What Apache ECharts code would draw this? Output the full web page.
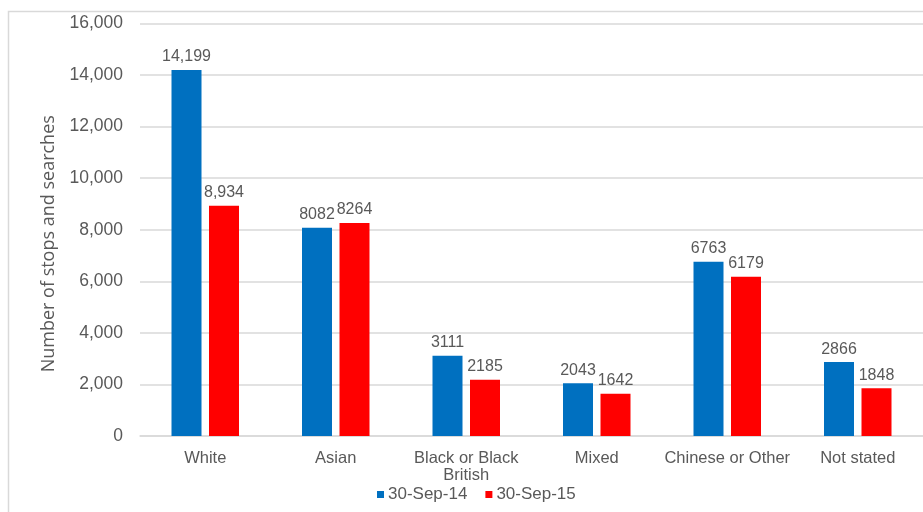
<!DOCTYPE html>
<html>
<head>
<meta charset="utf-8">
<script src="https://cdn.jsdelivr.net/npm/echarts@6/dist/echarts.min.js"></script>
<style>
  html, body { margin: 0; padding: 0; background: #fff; }
  #chart { width: 923px; height: 512px; }
</style>
</head>
<body>
<div id="chart"></div>
<script>
// Stops and searches by ethnicity, two reporting dates
const categories = ['White', 'Asian', 'Black or Black\nBritish', 'Mixed', 'Chinese or Other', 'Not stated'];
const seriesNames = ['30-Sep-14', '30-Sep-15'];
const sep14 = [14199, 8082, 3111, 2043, 6763, 2866];
const sep15 = [8934, 8264, 2185, 1642, 6179, 1848];
// Categories whose value labels are shown with a thousands separator
const groupedLabelCats = ['White'];
const yTicks = { min: 0, max: 16000, interval: 2000 };

const colors = ['#0070C0', '#FF0000'];
const textGrey = '#595959';
const font = '"Liberation Sans", Arial, sans-serif';

function withCommas(v) {
  return v.toString().replace(/\B(?=(\d{3})+(?!\d))/g, ',');
}

function valueLabel(p) {
  return groupedLabelCats.includes(categories[p.dataIndex]) ? withCommas(p.value) : String(p.value);
}

function makeSeries(name, data, color) {
  return {
    name: name,
    type: 'bar',
    data: data,
    barWidth: 30,
    barGap: '25%',
    itemStyle: { color: color },
    label: {
      show: true,
      position: 'top',
      distance: 5,
      color: textGrey,
      fontSize: 16,
      fontFamily: font,
      formatter: valueLabel
    }
  };
}

const chart = echarts.init(document.getElementById('chart'), null, { renderer: 'canvas' });
chart.setOption({
  animation: false,
  color: colors,
  graphic: [{
    type: 'rect',
    shape: { x: 8.5, y: 11.5, width: 1000, height: 600 },
    style: { fill: 'none', stroke: '#d9d9d9', lineWidth: 1.5 },
    silent: true
  }],
  grid: { left: 140, top: 23.5, width: 786, height: 412.5, containLabel: false },
  legend: {
    data: seriesNames,
    bottom: 4,
    left: 372,
    itemWidth: 7,
    itemHeight: 7,
    itemGap: 18,
    icon: 'rect',
    textStyle: { color: textGrey, fontSize: 17, fontFamily: font, padding: [0, 0, 0, -1] }
  },
  xAxis: {
    type: 'category',
    data: categories,
    axisLine: { show: true, lineStyle: { color: '#d9d9d9', width: 1.5 } },
    axisTick: { show: false },
    axisLabel: { color: textGrey, fontSize: 16.5, fontFamily: font, margin: 14, lineHeight: 17, interval: 0 }
  },
  yAxis: {
    type: 'value',
    min: yTicks.min,
    max: yTicks.max,
    interval: yTicks.interval,
    name: 'Number of stops and searches',
    nameLocation: 'middle',
    nameGap: 82,
    nameRotate: 90,
    nameTextStyle: {
      color: textGrey,
      fontSize: 18,
      fontFamily: '"Open Sans", sans-serif',
      padding: [0, 28, 0, 0]
    },
    axisLine: { show: false },
    axisTick: { show: false },
    splitLine: { lineStyle: { color: '#d9d9d9', width: 1.5 } },
    axisLabel: {
      color: textGrey,
      fontSize: 17.5,
      fontFamily: font,
      margin: 17,
      formatter: withCommas
    }
  },
  series: [
    makeSeries(seriesNames[0], sep14, colors[0]),
    makeSeries(seriesNames[1], sep15, colors[1])
  ]
});
</script>
</body>
</html>
